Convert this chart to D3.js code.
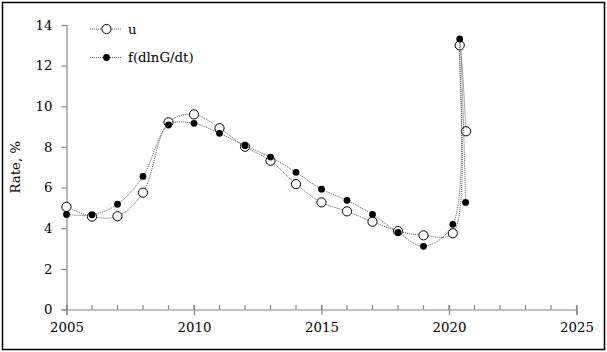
<!DOCTYPE html>
<html>
<head>
<meta charset="utf-8">
<script src="https://cdn.jsdelivr.net/npm/d3@7"></script>
<style>
  html, body { margin: 0; padding: 0; background: #fff; }
  svg { display: block; }
  svg text { font-family: "DejaVu Serif", serif; }
</style>
</head>
<body>
<svg id="chart" width="607" height="352"></svg>
<script>
// ---- data ----
const uYears = [2005, 2006, 2007, 2008, 2009, 2010, 2011, 2012, 2013, 2014, 2015, 2016, 2017, 2018, 2019, 2020.15, 2020.42, 2020.67];
const uValues = [5.05, 4.57, 4.59, 5.75, 9.21, 9.6, 8.92, 8.01, 7.32, 6.17, 5.27, 4.83, 4.32, 3.86, 3.65, 3.75, 13.0, 8.77];
const fYears = [2005, 2006, 2007, 2008, 2009, 2010, 2011, 2012, 2013, 2014, 2015, 2016, 2017, 2018, 2019, 2020.15, 2020.42, 2020.65];
const fValues = [4.68, 4.66, 5.18, 6.55, 9.08, 9.16, 8.67, 8.06, 7.5, 6.75, 5.92, 5.37, 4.68, 3.8, 3.11, 4.19, 13.31, 5.27];
const xTicks = [2005, 2010, 2015, 2020, 2025];
const xMinorTicks = d3.range(2005, 2026, 1);
const yTicks = [0, 2, 4, 6, 8, 10, 12, 14];
const seriesNames = ["u", "f(dlnG/dt)"];
const yLabel = "Rate, %";

// ---- layout ----
const svg = d3.select("#chart");
const W = 607, H = 352;
const FONT = "DejaVu Serif";
const FS = 13.3;
const x = d3.scaleLinear().domain([2005, 2025]).range([66.5, 576.5]);
const y = d3.scaleLinear().domain([0, 14]).range([309.5, 25]);
const axisColor = "#868686";
const lineColor = "#5a5a5a";

// outer frame
svg.append("rect").attr("x", 2.5).attr("y", 2.5).attr("width", W - 5).attr("height", H - 5)
  .attr("fill", "#fff").attr("stroke", "#000").attr("stroke-width", 1.5);

// y axis
const yAxis = svg.append("g").attr("transform", `translate(${x(2005)},0)`)
  .call(d3.axisLeft(y).tickValues(yTicks).tickSize(5).tickPadding(9).tickFormat(d3.format("d")));
yAxis.attr("font-family", FONT);
yAxis.select(".domain").attr("stroke", axisColor).attr("stroke-width", 1.2);
yAxis.selectAll(".tick line").attr("stroke", axisColor).attr("stroke-width", 1.2);
yAxis.selectAll(".tick text").attr("font-size", FS).attr("font-family", FONT).attr("fill", "#000");

// x axis minor ticks (inside)
svg.append("g").selectAll("line").data(xMinorTicks).join("line")
  .attr("x1", d => x(d)).attr("x2", d => x(d))
  .attr("y1", y(0) - 4.5).attr("y2", y(0))
  .attr("stroke", axisColor).attr("stroke-width", 1.2);

const xAxis = svg.append("g").attr("transform", `translate(0,${y(0)})`)
  .call(d3.axisBottom(x).tickValues(xTicks).tickSize(5.5).tickPadding(8).tickFormat(d3.format("d")));
xAxis.attr("font-family", FONT);
xAxis.select(".domain").attr("stroke", axisColor).attr("stroke-width", 1.2);
xAxis.selectAll(".tick line").attr("y1", -4.5).attr("stroke", axisColor).attr("stroke-width", 1.2);
xAxis.selectAll(".tick text").attr("font-size", FS).attr("font-family", FONT).attr("fill", "#000");

// y label
svg.append("text").attr("transform", `translate(20,${(y(0) + y(14)) / 2}) rotate(-90)`)
  .attr("text-anchor", "middle").attr("font-size", FS).attr("font-family", FONT)
  .attr("fill", "#000").text(yLabel);

// ---- series ----
const line = d3.line().x(d => x(d[0])).y(d => y(d[1])).curve(d3.curveCatmullRom.alpha(0.5));
const uData = uYears.map((t, i) => [t, uValues[i]]);
const fData = fYears.map((t, i) => [t, fValues[i]]);

svg.append("path").datum(uData).attr("d", line).attr("fill", "none")
  .attr("stroke", lineColor).attr("stroke-width", 1).attr("stroke-dasharray", "1,1");
svg.append("g").selectAll("circle").data(uData).join("circle")
  .attr("cx", d => x(d[0])).attr("cy", d => y(d[1])).attr("r", 4.6)
  .attr("fill", "#fff").attr("stroke", "#000").attr("stroke-width", 1);

svg.append("path").datum(fData).attr("d", line).attr("fill", "none")
  .attr("stroke", lineColor).attr("stroke-width", 1).attr("stroke-dasharray", "1,1");
svg.append("g").selectAll("circle").data(fData).join("circle")
  .attr("cx", d => x(d[0])).attr("cy", d => y(d[1])).attr("r", 3.4)
  .attr("fill", "#000");

// ---- legend ----
const legend = svg.append("g");
const rows = [
  {name: seriesNames[0], yy: 29, open: true},
  {name: seriesNames[1], yy: 57.5, open: false}
];
rows.forEach(r => {
  legend.append("line").attr("x1", 90).attr("x2", 122).attr("y1", r.yy).attr("y2", r.yy)
    .attr("stroke", lineColor).attr("stroke-width", 1).attr("stroke-dasharray", "1,1");
  if (r.open) {
    legend.append("circle").attr("cx", 106.5).attr("cy", r.yy).attr("r", 4.6)
      .attr("fill", "#fff").attr("stroke", "#000");
  } else {
    legend.append("circle").attr("cx", 106.5).attr("cy", r.yy).attr("r", 3.4).attr("fill", "#000");
  }
  legend.append("text").attr("x", 128).attr("y", r.yy + 4.5).attr("font-size", FS)
    .attr("font-family", FONT).attr("fill", "#000").text(r.name);
});
</script>
</body>
</html>
